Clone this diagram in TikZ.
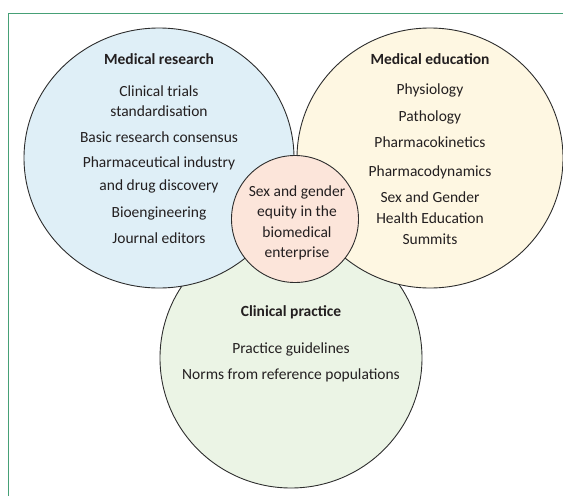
\documentclass[tikz,border=0pt]{standalone}
\usepackage{fontspec}
\setmainfont{Carlito}
\usetikzlibrary{shapes.geometric}
\definecolor{framegreen}{RGB}{70,160,118}
\definecolor{fillblue}{RGB}{223,239,247}
\definecolor{fillyellow}{RGB}{254,247,226}
\definecolor{fillgreen}{RGB}{235,244,229}
\definecolor{fillpink}{RGB}{252,229,218}
\definecolor{edgegray}{RGB}{45,45,45}
\definecolor{txt}{RGB}{35,31,32}
\tikzset{
  venn/.style={ellipse, draw=edgegray, line width=0.9pt, inner sep=0pt},
  item/.style={anchor=base, inner sep=0pt, text=txt, font=\fontsize{15.5}{19}\selectfont},
  title/.style={item, font=\fontsize{15.5}{19}\selectfont\bfseries},
}
\begin{document}
\begin{tikzpicture}[x=1pt,y=-1pt]
\useasboundingbox (0,0) rectangle (563,496);
% frame
\coordinate (fbl) at (8,496);
\coordinate (ftl) at (8,13);
\coordinate (ftr) at (563,13);
\draw[framegreen, line width=1pt] (fbl) -- (ftl) -- (ftr);
% circles
\node[venn, fill=fillgreen, minimum width=262pt, minimum height=260pt] (green) at (291,358) {};
\node[venn, fill=fillblue, minimum width=270pt, minimum height=260pt] (blue) at (159,158) {};
\node[venn, fill=fillyellow, minimum width=266pt, minimum height=260pt] (yellow) at (430,158) {};
\node[venn, fill=fillpink, minimum width=127pt, minimum height=127pt] (pink) at (295,219) {};
% Medical research
\node[title] (mr) at (159,64) {Medical research};
\node[item] (mr1) at (159,96) {Clinical trials};
\node[item] (mr2) at (159,116) {standardisation};
\node[item] (mr3) at (159,142) {Basic research consensus};
\node[item] (mr4) at (159,167) {Pharmaceutical industry};
\node[item] (mr5) at (159,190) {and drug discovery};
\node[item] (mr6) at (159,217) {Bioengineering};
\node[item] (mr7) at (159,243) {Journal editors};
% Medical education
\node[title] (me) at (430,64) {Medical education};
\node[item] (me1) at (430,94) {Physiology};
\node[item] (me2) at (430,121) {Pathology};
\node[item] (me3) at (430,147) {Pharmacokinetics};
\node[item] (me4) at (430,176) {Pharmacodynamics};
\node[item] (me5) at (430,202) {Sex and Gender};
\node[item] (me6) at (430,223) {Health Education};
\node[item] (me7) at (430,244) {Summits};
% Clinical practice
\node[title] (cp) at (291,316) {Clinical practice};
\node[item] (cp1) at (291,353) {Practice guidelines};
\node[item] (cp2) at (291,379) {Norms from reference populations};
% centre
\node[item] (c1) at (297,196) {Sex and gender};
\node[item] (c2) at (297,216) {equity in the};
\node[item] (c3) at (297,237) {biomedical};
\node[item] (c4) at (297,257) {enterprise};
\end{tikzpicture}
\end{document}
